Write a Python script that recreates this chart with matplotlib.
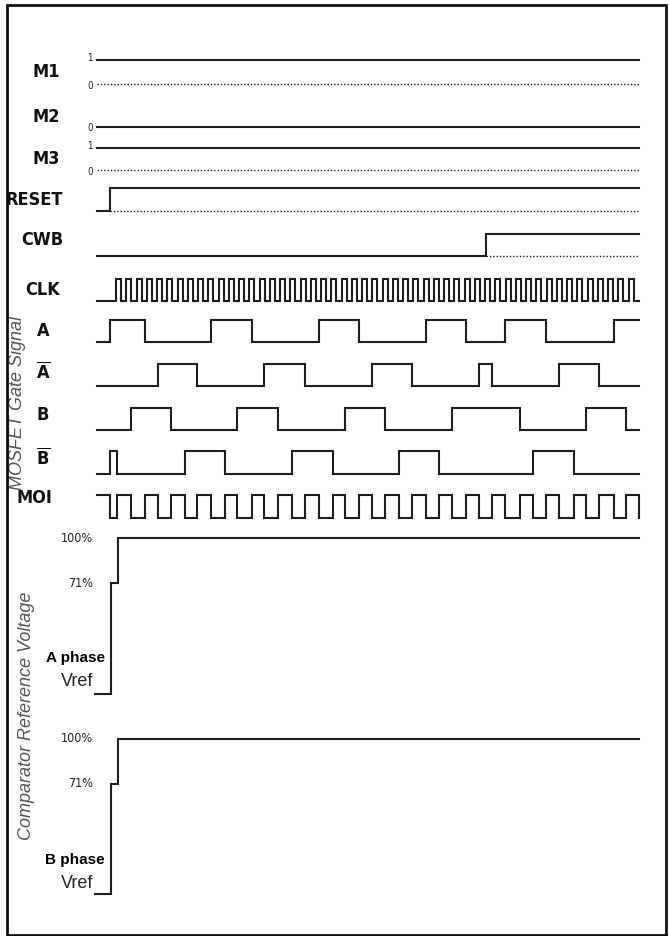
import numpy as np
import matplotlib.pyplot as plt
from matplotlib.patches import Rectangle

plt.rcParams['font.family'] = ['DejaVu Sans']
plt.rcParams['font.stretch'] = 'condensed'
plt.rcParams['mathtext.fontset'] = 'custom'
plt.rcParams['mathtext.rm'] = 'DejaVu Sans'
plt.rcParams['mathtext.bf'] = 'DejaVu Sans:bold'

# time axis (arbitrary units), 0 = start of the traces
t_end = 542

# mode pins: constant levels
m1_level = 1
m2_level = 0
m3_level = 1

# edge times (signal toggles at each one), all start low except MOI
reset_edges = [13]
cwb_edges = [389]
clk_edges = [19, 24, 29, 34, 39.5, 44.5, 50, 55, 60, 65, 70, 75, 80.5, 85.5, 91, 96,
             101, 106, 111, 116, 121.5, 126.5, 132, 137, 142, 147, 152, 157,
             162.5, 167.5, 173, 178, 183, 188, 193, 198, 203.5, 208.5, 214, 219,
             224, 229, 234, 239, 244.5, 249.5, 255, 260, 265, 270, 275, 280,
             285.5, 290.5, 296, 301, 306, 311, 316, 321, 326.5, 331.5, 337, 342,
             347, 352, 357, 362, 367.5, 372.5, 378, 383, 388, 393, 398, 403,
             408.5, 413.5, 419, 424, 429, 434, 439, 444, 449.5, 454.5, 460, 465,
             470, 475, 480, 485, 490.5, 495.5, 501, 506, 511, 516, 521, 526,
             531.5, 536.5]
a_edges = [13, 48, 114, 155, 222, 262, 329, 369, 408, 449, 517]
abar_edges = [61, 100, 167, 208, 275, 315, 382, 395, 462, 502]
b_edges = [34, 74, 140, 181, 248, 288, 355, 423, 489, 529]
bbar_edges = [13, 20, 88, 128, 195, 236, 302, 342, 436, 477]
moi_edges = [13, 20, 34, 48, 61, 74, 88, 100, 114, 128, 140, 155, 167, 181,
             195, 208, 222, 236, 248, 262, 275, 288, 302, 315, 329, 342, 355,
             369, 382, 395, 408, 423, 436, 449, 462, 477, 489, 502, 517, 529, 542]

# comparator reference voltage steps (time, percent)
vref_times = [0, 14, 21]
vref_a = [0, 71, 100]
vref_b = [0, 71, 100]


def wave(edges, start=0):
    x = [0]
    lev = [start]
    for e in edges:
        x.append(e)
        lev.append(1 - lev[-1])
    if x[-1] < t_end:
        x.append(t_end)
        lev.append(lev[-1])
    return np.array(x, float), np.array(lev, float)


fig = plt.figure(figsize=(6.69, 9.36), dpi=100)
ax = fig.add_axes([0, 0, 1, 1])
ax.set_xlim(-97, 669 - 97)
ax.set_ylim(936, 0)
ax.axis('off')

lc = '#1e1e1e'
lw = 1.5
dot = dict(color=lc, lw=1.0, ls=(0, (1, 1.4)))

# rows: (y of high level, y of low level)
rows = {
    'RESET': (188, 211), 'CWB': (234, 256), 'CLK': (279, 301),
    'A': (320, 342), 'Abar': (364, 386), 'B': (408, 430),
    'Bbar': (451, 474), 'MOI': (495, 518),
}


def draw(name, edges, start=0, dotted_low=False):
    hi, lo = rows[name]
    x, lev = wave(edges, start)
    y = lo - lev * (lo - hi)
    ax.step(x, y, where='post', color=lc, lw=lw, solid_joinstyle='miter')
    if dotted_low:
        ax.plot([edges[0], t_end], [lo, lo], **dot)


# mode pins
ax.plot([0, t_end], [60, 60] if m1_level else [84, 84], color=lc, lw=lw)
ax.plot([0, t_end], [84, 84], **dot)
ax.plot([0, t_end], [127, 127] if m2_level == 0 else [105, 105], color=lc, lw=lw)
ax.plot([0, t_end], [148, 148] if m3_level else [170, 170], color=lc, lw=lw)
ax.plot([0, t_end], [170, 170], **dot)
small = dict(fontsize=7, ha='right', va='center', color='#222')
ax.text(-4, 58, '1', **small)
ax.text(-4, 86, '0', **small)
ax.text(-4, 128, '0', **small)
ax.text(-4, 146, '1', **small)
ax.text(-4, 172, '0', **small)

draw('RESET', reset_edges, dotted_low=True)
draw('CWB', cwb_edges, dotted_low=True)
draw('CLK', clk_edges)
draw('A', a_edges)
draw('Abar', abar_edges)
draw('B', b_edges)
draw('Bbar', bbar_edges)
draw('MOI', moi_edges, start=1)

# comparator reference voltage traces
for vals, base, top in [(vref_a, 694, 538), (vref_b, 894, 739)]:
    x = [vref_times[0] - 2] + vref_times[1:] + [t_end]
    v = np.array(vals + [vals[-1]], float)
    y = base - v / 100 * (base - top)
    ax.step(x, y, where='post', color=lc, lw=lw, solid_joinstyle='miter')
    ax.text(-4, top, '100%', fontsize=9, ha='right', va='center', color='#222')
    ax.text(-4, base - 0.71 * (base - top), '71%', fontsize=9, ha='right',
            va='center', color='#222')

# signal names
lab = dict(fontsize=13, fontweight='bold', ha='center', va='center', color='#111')
ax.text(46 - 97, 72, 'M1', **lab)
ax.text(46 - 97, 117, 'M2', **lab)
ax.text(46 - 97, 159, 'M3', **lab)
ax.text(34 - 97, 200, 'RESET', **lab)
ax.text(42 - 97, 240, 'CWB', **lab)
ax.text(43 - 97, 290, 'CLK', **lab)
ax.text(43 - 97, 331, 'A', **lab)
ax.text(43 - 97, 372, r'$\overline{\mathbf{A}}$', **lab)
ax.text(43 - 97, 415, 'B', **lab)
ax.text(43 - 97, 458, r'$\overline{\mathbf{B}}$', **lab)
ax.text(34 - 97, 498, 'MOI', **lab)

for y0, ph in [(658, 'A phase'), (860, 'B phase')]:
    ax.text(75 - 97, y0, ph, fontsize=11, fontweight='bold', ha='center',
            va='center', family='Liberation Sans', stretch='normal', color='#000')
    ax.text(77 - 97, y0 + 23, 'Vref', fontsize=13, ha='center', va='center',
            family='Liberation Sans', stretch='normal', color='#222')

side = dict(fontsize=13, style='italic', rotation=90, ha='center', va='center',
            family='Liberation Sans', stretch='normal', color='#555')
ax.text(18 - 97, 403, 'MOSFET Gate Signal', **side)
ax.text(27 - 97, 716, 'Comparator Reference Voltage', **side)

fig.add_artist(Rectangle((7 / 669, 1 / 936), 659 / 669, 930 / 936,
                         transform=fig.transFigure, fill=False, lw=2, ec='#111'))

fig.savefig('out.png', dpi=100)
